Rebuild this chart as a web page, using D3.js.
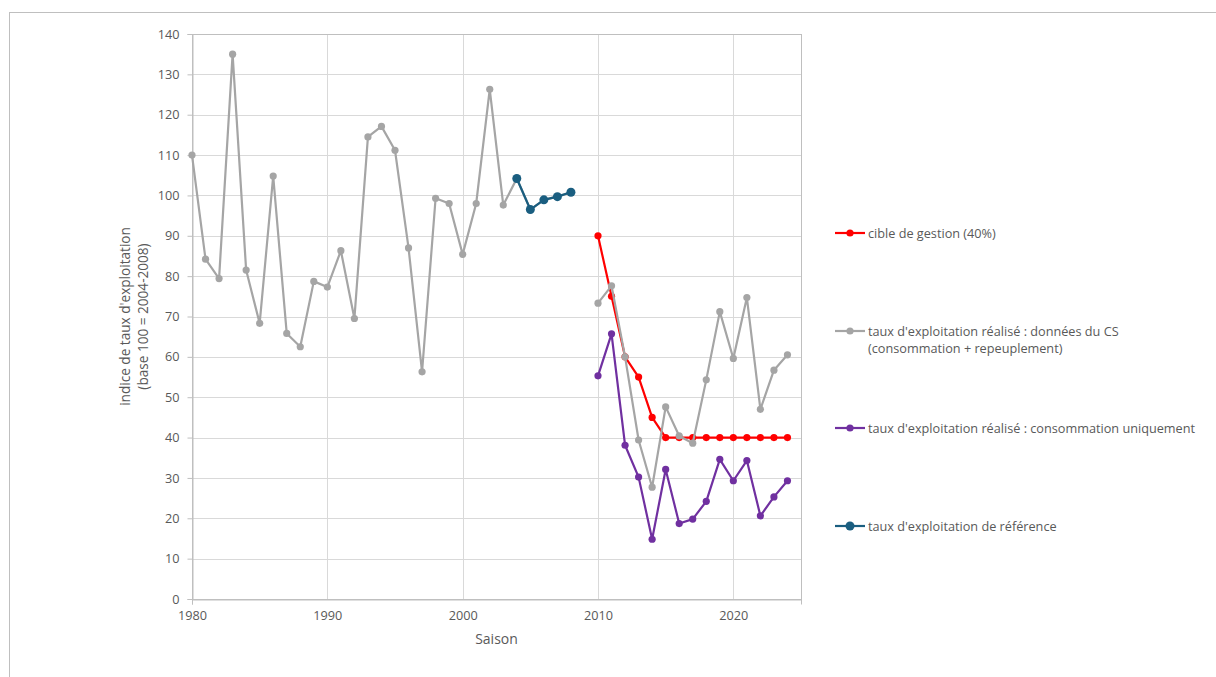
<!DOCTYPE html>
<html><head><meta charset="utf-8">
<script src="https://cdn.jsdelivr.net/npm/d3@7"></script>
<style>body{margin:0;background:#fff;} text{font-family:"Open Sans","Noto Sans",sans-serif;}</style>
</head><body>
<svg id="c" width="1216" height="677"></svg>
<script>
const grayYears = d3.range(1980, 2009).concat(d3.range(2010, 2025));
const grayValues = [110.0, 84.2, 79.4, 135.0, 81.5, 68.3, 104.8, 65.8, 62.5, 78.7,
  77.3, 86.3, 69.5, 114.5, 117.1, 111.2, 87.0, 56.3, 99.3, 98.0,
  85.4, 98.0, 126.3, 97.6, 104.2, 96.5, 98.9, 99.7, 100.8,
  73.3, 77.6, 60.0, 39.4, 27.7, 47.6, 40.4, 38.6, 54.3, 71.2, 59.6, 74.7, 47.0, 56.7, 60.5];
const refYears = [2004, 2005, 2006, 2007, 2008];
const refValues = [104.2, 96.5, 98.9, 99.7, 100.8];
const recentYears = d3.range(2010, 2025);
const targetValues = [90, 75, 60, 55, 45, 40, 40, 40, 40, 40, 40, 40, 40, 40, 40];
const consoValues = [55.3, 65.7, 38.1, 30.2, 14.8, 32.1, 18.7, 19.8, 24.2, 34.6, 29.3, 34.3, 20.6, 25.3, 29.3];
const yTicks = d3.range(0, 141, 10);
const xTicks = [1980, 1990, 2000, 2010, 2020];
const legendLabels = [
  ["cible de gestion (40%)"],
  ["taux d'exploitation réalisé : données du CS", "(consommation + repeuplement)"],
  ["taux d'exploitation réalisé : consommation uniquement"],
  ["taux d'exploitation de référence"]
];

const svg = d3.select("#c");
const m = {l:192, r:801, t:34, b:599};
const x = d3.scaleLinear().domain([1980, 2025]).range([m.l, m.r]);
const y = d3.scaleLinear().domain([0, 140]).range([m.b, m.t]);
const txt = "#595959";

svg.append("rect").attr("x", 9.5).attr("y", 12.5).attr("width", 1220).attr("height", 680)
  .attr("fill", "#fff").attr("stroke", "#BFBFBF").attr("stroke-width", 1);

svg.append("g").selectAll("line").data(yTicks).join("line")
  .attr("x1", m.l).attr("x2", m.r).attr("y1", d => Math.round(y(d)) + 0.5).attr("y2", d => Math.round(y(d)) + 0.5)
  .attr("stroke", "#D9D9D9").attr("stroke-width", 1);
svg.append("g").selectAll("line").data(xTicks).join("line")
  .attr("x1", d => Math.round(x(d)) + 0.5).attr("x2", d => Math.round(x(d)) + 0.5).attr("y1", m.t).attr("y2", m.b)
  .attr("stroke", "#D9D9D9").attr("stroke-width", 1);

svg.append("rect").attr("x", m.l + 0.5).attr("y", m.t + 0.5).attr("width", m.r - m.l).attr("height", m.b - m.t)
  .attr("fill", "none").attr("stroke", "#BFBFBF").attr("stroke-width", 1);

const yAxis = d3.axisLeft(y).tickValues(yTicks).tickSize(5).tickPadding(8);
const gy = svg.append("g").attr("transform", `translate(${m.l + 0.5},0)`).call(yAxis);
const xAxis = d3.axisBottom(x).tickValues(xTicks).tickFormat(d3.format("d")).tickSize(5).tickPadding(6);
const gx = svg.append("g").attr("transform", `translate(0,${m.b + 0.5})`).call(xAxis);
[gy, gx].forEach(g => {
  g.select(".domain").attr("stroke", "#BFBFBF");
  g.selectAll(".tick line").attr("stroke", "#BFBFBF");
  g.selectAll(".tick text").attr("fill", txt).attr("font-size", 12.7).attr("font-family", "'Open Sans','Noto Sans',sans-serif");
});
gx.selectAll(".tick line").filter(d => d !== 1980).remove();

svg.append("text").attr("x", (m.l + m.r) / 2).attr("y", 644).attr("text-anchor", "middle")
  .attr("fill", txt).attr("font-size", 14).text("Saison");
const yt = svg.append("text").attr("transform", `translate(130,${(m.t + m.b) / 2}) rotate(-90)`)
  .attr("text-anchor", "middle").attr("fill", txt).attr("font-size", 13.6);
yt.append("tspan").attr("x", 0).attr("dy", 0).text("indice de taux d'exploitation");
yt.append("tspan").attr("x", 0).attr("dy", 18).text("(base 100 = 2004-2008)");

const series = [
  {xs: recentYears, vs: targetValues, color: "#FF0000", r: 3.6},
  {xs: grayYears, vs: grayValues, color: "#A5A5A5", r: 3.6},
  {xs: recentYears, vs: consoValues, color: "#7030A0", r: 3.6},
  {xs: refYears, vs: refValues, color: "#1A5E80", r: 4.5}
];
series.forEach(s => {
  const pts = s.xs.map((yr, i) => ({yr, v: s.vs[i]}));
  const line = d3.line().x(d => x(d.yr)).y(d => y(d.v));
  const segs = [];
  pts.forEach((p, i) => {
    if (i === 0 || p.yr - pts[i - 1].yr !== 1) segs.push([]);
    segs[segs.length - 1].push(p);
  });
  const g = svg.append("g");
  segs.forEach(sg => g.append("path").attr("d", line(sg)).attr("fill", "none")
    .attr("stroke", s.color).attr("stroke-width", 2.2).attr("stroke-linejoin", "round"));
  g.selectAll("circle").data(pts).join("circle")
    .attr("cx", d => x(d.yr)).attr("cy", d => y(d.v)).attr("r", s.r).attr("fill", s.color);
});

const legY = [233, 331, 428, 526];
legendLabels.forEach((lab, i) => {
  const s = series[i];
  const g = svg.append("g");
  g.append("line").attr("x1", 835).attr("x2", 865).attr("y1", legY[i]).attr("y2", legY[i])
    .attr("stroke", s.color).attr("stroke-width", 2.2);
  g.append("circle").attr("cx", 850).attr("cy", legY[i]).attr("r", s.r).attr("fill", s.color);
  lab.forEach((t, j) => g.append("text").attr("x", 868).attr("y", legY[i] + 4.5 + j * 17)
    .attr("fill", txt).attr("font-size", 12.7).text(t));
});
</script>
</body></html>
